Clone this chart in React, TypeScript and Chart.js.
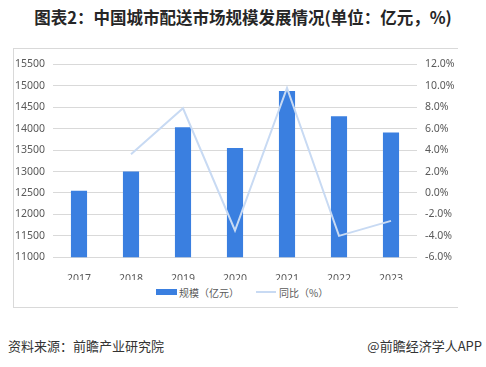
import React, { useEffect, useRef } from "react";
import { Chart, registerables } from "chart.js";

Chart.register(...registerables);

const categories = ["2017", "2018", "2019", "2020", "2021", "2022", "2023"];
const scaleValues = [12550, 13000, 14030, 13550, 14880, 14290, 13910];
const growthValues: (number | null)[] = [null, 3.6, 7.9, -3.5, 9.8, -4.0, -2.6];
const barLabel = "规模（亿元）";
const lineLabel = "同比（%）";

const BAR_COLOR = "#3a7fe0";
const LINE_COLOR = "#c8daf3";
const TICK_COLOR = "#595959";
const GRID_COLOR = "#d9d9d9";
const TICK_FONT = { family: "'Noto Sans', sans-serif", size: 10.5 };

export default function App() {
  const ref = useRef<HTMLCanvasElement | null>(null);

  useEffect(() => {
    if (!ref.current) return;
    const chart = new Chart(ref.current, {
      data: {
        labels: categories,
        datasets: [
          {
            type: "line",
            label: lineLabel,
            data: growthValues,
            yAxisID: "y1",
            borderColor: LINE_COLOR,
            backgroundColor: LINE_COLOR,
            borderWidth: 2,
            pointRadius: 0,
            tension: 0,
            spanGaps: false,
            order: 0,
          } as any,
          {
            type: "bar",
            label: barLabel,
            data: scaleValues,
            yAxisID: "y",
            backgroundColor: BAR_COLOR,
            barPercentage: 0.31,
            categoryPercentage: 1,
            order: 1,
          } as any,
        ],
      },
      options: {
        responsive: false,
        devicePixelRatio: 1,
        animation: false,
        layout: { padding: { top: 10.7, left: 0, right: 0, bottom: 0 } },
        plugins: {
          legend: { display: false },
          tooltip: { enabled: false },
        },
        scales: {
          x: {
            grid: { display: false },
            border: { display: false },
            ticks: { color: TICK_COLOR, font: TICK_FONT, padding: 7, maxRotation: 0 },
            afterFit: (s: any) => {
              s.height = 22.7;
            },
          },
          y: {
            position: "left",
            min: 11000,
            max: 15500,
            grid: { color: GRID_COLOR, drawTicks: false, lineWidth: 1 },
            border: { display: false },
            ticks: {
              stepSize: 500,
              color: TICK_COLOR,
              font: TICK_FONT,
              padding: 8,
              callback: (v: any) => String(v),
            },
            afterFit: (s: any) => {
              s.width = 53;
            },
          },
          y1: {
            position: "right",
            min: -6,
            max: 12,
            grid: { display: false, drawTicks: false },
            border: { display: false },
            ticks: {
              stepSize: 2,
              color: TICK_COLOR,
              font: TICK_FONT,
              padding: 8,
              callback: (v: any) => Number(v).toFixed(1) + "%",
            },
            afterFit: (s: any) => {
              s.width = 69;
            },
          },
        },
      } as any,
    });
    return () => chart.destroy();
  }, []);

  const cjk = "'Noto Sans CJK SC', 'Noto Sans', sans-serif";

  return (
    <div
      style={{
        position: "fixed",
        left: 0,
        top: 0,
        width: 486,
        height: 367,
        background: "#fff",
        overflow: "hidden",
        fontFamily: cjk,
      }}
    >
      <div
        style={{
          position: "absolute",
          left: 0,
          top: 5,
          width: 486,
          textAlign: "center",
          fontSize: 16.5,
          fontWeight: 700,
          color: "#262626",
          lineHeight: "24px",
          whiteSpace: "nowrap",
        }}
      >
        图表2：中国城市配送市场规模发展情况(单位：亿元，%)
      </div>
      <div
        style={{
          position: "absolute",
          left: 13,
          top: 48,
          width: 445,
          height: 260,
          borderLeft: "1px solid #d9d9d9",
          borderTop: "1px solid #d9d9d9",
          borderBottom: "1px solid #d9d9d9",
          boxSizing: "border-box",
        }}
      />
      <div style={{ position: "absolute", left: 0, top: 50, width: 486, height: 230 }}>
        <canvas ref={ref} width={486} height={230} style={{ display: "block" }} />
      </div>
      <div
        style={{
          position: "absolute",
          left: 156,
          top: 284,
          height: 16,
          display: "flex",
          alignItems: "center",
          fontSize: 10,
          color: TICK_COLOR,
          whiteSpace: "nowrap",
        }}
      >
        <span style={{ display: "inline-block", width: 21, height: 6, background: BAR_COLOR, marginRight: 2 }} />
        <span>{barLabel}</span>
        <span style={{ display: "inline-block", width: 20, height: 2, background: LINE_COLOR, marginLeft: 17, marginRight: 3 }} />
        <span>{lineLabel}</span>
      </div>
      <div
        style={{
          position: "absolute",
          left: 8,
          top: 336,
          fontSize: 13,
          color: "#333",
          whiteSpace: "nowrap",
        }}
      >
        资料来源：前瞻产业研究院
      </div>
      <div
        style={{
          position: "absolute",
          right: 4,
          top: 336,
          fontSize: 13,
          color: "#333",
          whiteSpace: "nowrap",
        }}
      >
        @前瞻经济学人APP
      </div>
    </div>
  );
}
